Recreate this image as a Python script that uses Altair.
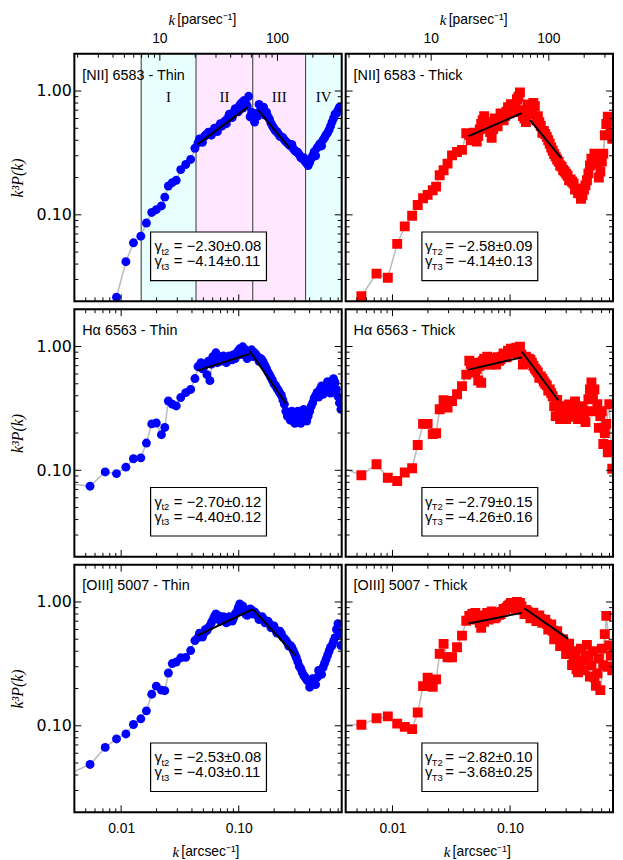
import altair as alt
import pandas as pd

# ---------------- data ----------------
K = [0.00365, 0.00544, 0.00732, 0.00913, 0.01097, 0.01272, 0.0147, 0.0164, 0.0182, 0.0199,
     0.0220, 0.0235, 0.0252, 0.0272, 0.0294, 0.0321, 0.0354, 0.0390, 0.0424,
     0.045, 0.0477, 0.0506, 0.0536, 0.0568, 0.0602, 0.0639, 0.0677, 0.0718, 0.0761,
     0.0806, 0.0855, 0.0906, 0.0961, 0.1018, 0.108, 0.1144, 0.1213, 0.1286, 0.1363,
     0.1445, 0.1532, 0.1624, 0.1721, 0.1824, 0.1934, 0.205, 0.2173, 0.2303, 0.2441,
     0.2588, 0.2743, 0.2908, 0.3082, 0.3267, 0.3463, 0.3671, 0.3891, 0.4125, 0.4372,
     0.4635, 0.4913, 0.5208, 0.552, 0.5851, 0.6202, 0.6575, 0.6969, 0.7387, 0.78]

# second set of points in the dense part of the spectra (between the K values above)
K_MID = [0.04633, 0.04911, 0.0521, 0.05519, 0.05848, 0.06198, 0.06579, 0.0697, 0.07393,
         0.07835, 0.08299, 0.08803, 0.09328, 0.09895, 0.1048, 0.1112, 0.1178, 0.1249,
         0.1324, 0.1403, 0.1488, 0.1577, 0.1672, 0.1772, 0.1878, 0.1991, 0.2111, 0.2237,
         0.2371, 0.2513, 0.2665, 0.2824, 0.2994, 0.3173, 0.3364, 0.3566, 0.378, 0.4006,
         0.4247, 0.4501, 0.4772, 0.5058, 0.5362, 0.5683, 0.6024, 0.6386, 0.677, 0.7175]

P_NII_THIN = [0.003, 0.006, 0.012, 0.0216, 0.0418, 0.0594, 0.0672, 0.0859, 0.1045, 0.110,
              0.118, 0.139, 0.171, 0.182, 0.19, 0.232, 0.255, 0.28, 0.345,
              0.381, 0.403, 0.426, 0.442, 0.459, 0.476, 0.494, 0.515, 0.52, 0.572,
              0.60, 0.639, 0.675, 0.714, 0.768, 0.727, 0.797, 0.907, 0.675, 0.562,
              0.627, 0.701, 0.741, 0.675, 0.593, 0.522, 0.476, 0.450, 0.426, 0.403,
              0.381, 0.361, 0.342, 0.323, 0.306, 0.284, 0.269, 0.250, 0.284, 0.323,
              0.348, 0.375, 0.403, 0.442, 0.485, 0.561, 0.651, 0.700, 0.713, 0.69]
M_NII_THIN = [0.41, 0.385, 0.44, 0.465, 0.44, 0.50, 0.47, 0.545, 0.55, 0.545, 0.65, 0.61,
              0.72, 0.68, 0.80, 0.84, 0.76, 0.62, 0.60, 0.66, 0.78, 0.69, 0.64, 0.62,
              0.55, 0.50, 0.47, 0.43, 0.42, 0.39, 0.37, 0.37, 0.33, 0.32, 0.29, 0.29,
              0.26, 0.265, 0.30, 0.30, 0.36, 0.36, 0.42, 0.46, 0.52, 0.60, 0.66, 0.74]

P_NII_THICK = [0.016, 0.0220, 0.0335, 0.031, 0.0582, 0.0806, 0.0984, 0.1202, 0.136, 0.145,
               0.158, 0.169, 0.209, 0.229, 0.259, 0.302, 0.322, 0.335, 0.456,
               0.442, 0.411, 0.45, 0.434, 0.541, 0.627, 0.562, 0.467, 0.494, 0.562,
               0.583, 0.627, 0.627, 0.741, 0.783, 0.675, 0.858, 0.976, 0.627, 0.562,
               0.651, 0.714, 0.754, 0.627, 0.522, 0.476, 0.426, 0.375, 0.329, 0.295,
               0.269, 0.245, 0.224, 0.207, 0.193, 0.179, 0.163, 0.149, 0.144, 0.173,
               0.216, 0.284, 0.312, 0.259, 0.224, 0.312, 0.541, 0.562, 0.411, 0.38]
M_NII_THICK = [0.40, 0.46, 0.39, 0.49, 0.58, 0.52, 0.50, 0.42, 0.60, 0.52, 0.66, 0.58,
               0.68, 0.66, 0.72, 0.78, 0.90, 0.70, 0.60, 0.78, 0.66, 0.80, 0.58, 0.56,
               0.46, 0.45, 0.40, 0.35, 0.31, 0.28, 0.25, 0.23, 0.215, 0.19, 0.185, 0.16,
               0.15, 0.135, 0.16, 0.19, 0.25, 0.26, 0.28, 0.20, 0.27, 0.44, 0.62, 0.46]

P_HA_THIN = [0.078, 0.0744, 0.097, 0.094, 0.106, 0.124, 0.126, 0.166, 0.237, 0.241,
             0.194, 0.222, 0.363, 0.342, 0.331, 0.387, 0.424, 0.450, 0.551,
             0.688, 0.741, 0.688, 0.593, 0.53, 0.827, 0.890, 0.827, 0.783, 0.80,
             0.768, 0.827, 0.858, 0.890, 0.958, 0.995, 0.941, 0.858, 0.941, 0.890,
             0.827, 0.80, 0.741, 0.663, 0.593, 0.532, 0.485, 0.442, 0.403, 0.342,
             0.274, 0.254, 0.274, 0.254, 0.284, 0.26, 0.29, 0.274, 0.329, 0.381,
             0.426, 0.45, 0.411, 0.476, 0.45, 0.494, 0.512, 0.396, 0.311, 0.27]
M_HA_THIN = [0.70, 0.66, 0.72, 0.76, 0.72, 0.76, 0.74, 0.76, 0.84, 0.74, 0.84, 0.78,
             0.80, 0.92, 0.86, 0.90, 0.80, 0.90, 0.83, 0.86, 0.76, 0.78, 0.70, 0.62,
             0.56, 0.50, 0.46, 0.42, 0.37, 0.30, 0.27, 0.30, 0.24, 0.30, 0.24, 0.31,
             0.25, 0.30, 0.35, 0.40, 0.39, 0.48, 0.44, 0.52, 0.42, 0.55, 0.45, 0.35]

P_HA_THICK = [0.106, 0.0912, 0.112, 0.087, 0.082, 0.096, 0.104, 0.160, 0.237, 0.237,
              0.196, 0.199, 0.311, 0.368, 0.322, 0.363, 0.411, 0.479, 0.593,
              0.768, 0.688, 0.616, 0.532, 0.51, 0.797, 0.827, 0.714, 0.741, 0.714,
              0.768, 0.827, 0.858, 0.924, 0.958, 0.924, 0.976, 0.995, 0.714, 0.827,
              0.797, 0.741, 0.663, 0.616, 0.572, 0.522, 0.485, 0.45, 0.396, 0.274,
              0.318, 0.284, 0.311, 0.3, 0.318, 0.323, 0.284, 0.3, 0.311, 0.245,
              0.375, 0.512, 0.45, 0.342, 0.274, 0.163, 0.237, 0.342, 0.103, 0.085]
M_HA_THICK = [0.72, 0.74, 0.66, 0.70, 0.76, 0.72, 0.80, 0.80, 0.78, 0.82, 0.79, 0.88,
              0.82, 0.90, 0.88, 0.97, 0.90, 0.86, 0.78, 0.74, 0.78, 0.70, 0.64, 0.56,
              0.55, 0.50, 0.44, 0.42, 0.33, 0.37, 0.26, 0.33, 0.26, 0.34, 0.27, 0.36,
              0.26, 0.33, 0.27, 0.30, 0.45, 0.40, 0.30, 0.22, 0.30, 0.20, 0.14, 0.16]

P_OIII_THIN = [0.041, 0.0487, 0.0669, 0.0783, 0.0859, 0.1024, 0.1138, 0.132, 0.180, 0.209,
               0.194, 0.192, 0.267, 0.318, 0.327, 0.354, 0.357, 0.405, 0.488,
               0.515, 0.535, 0.56, 0.586, 0.642, 0.718, 0.80, 0.773, 0.718, 0.718,
               0.692, 0.731, 0.745, 0.832, 0.964, 0.929, 0.80, 0.832, 0.863, 0.832,
               0.773, 0.745, 0.731, 0.692, 0.667, 0.631, 0.597, 0.575, 0.555, 0.506,
               0.470, 0.445, 0.405, 0.356, 0.302, 0.270, 0.246, 0.229, 0.217, 0.225,
               0.246, 0.265, 0.296, 0.343, 0.398, 0.445, 0.515, 0.667, 0.445, 0.35]
M_OIII_THIN = [0.56, 0.52, 0.60, 0.62, 0.68, 0.76, 0.74, 0.70, 0.76, 0.68, 0.76, 0.70,
               0.80, 0.90, 0.88, 0.86, 0.78, 0.88, 0.80, 0.80, 0.72, 0.76, 0.68, 0.70,
               0.62, 0.64, 0.56, 0.58, 0.52, 0.49, 0.44, 0.43, 0.38, 0.33, 0.29, 0.255,
               0.235, 0.205, 0.24, 0.215, 0.28, 0.26, 0.32, 0.37, 0.43, 0.48, 0.60, 0.55]

P_OIII_THICK = [0.102, 0.102, 0.115, 0.119, 0.104, 0.098, 0.094, 0.128, 0.209, 0.245,
                0.206, 0.237, 0.381, 0.459, 0.358, 0.358, 0.431, 0.535, 0.705,
                0.773, 0.80, 0.816, 0.745, 0.619, 0.692, 0.816, 0.773, 0.80, 0.759,
                0.787, 0.832, 0.863, 0.929, 0.982, 0.964, 1.0, 0.982, 0.863, 0.863,
                0.80, 0.787, 0.759, 0.745, 0.731, 0.692, 0.667, 0.642, 0.586, 0.555,
                0.515, 0.479, 0.445, 0.42, 0.384, 0.337, 0.286, 0.308, 0.337, 0.356,
                0.37, 0.308, 0.246, 0.265, 0.194, 0.308, 0.773, 0.445, 0.28, 0.246]
M_OIII_THICK = [0.74, 0.76, 0.72, 0.68, 0.78, 0.74, 0.72, 0.84, 0.74, 0.82, 0.80, 0.88,
                0.90, 0.95, 0.92, 0.88, 0.94, 0.92, 0.80, 0.84, 0.74, 0.82, 0.70, 0.78,
                0.68, 0.72, 0.60, 0.66, 0.50, 0.58, 0.44, 0.50, 0.38, 0.46, 0.31, 0.40,
                0.27, 0.42, 0.28, 0.45, 0.25, 0.40, 0.21, 0.35, 0.42, 0.55, 0.30, 0.37]

# fitted power-law segments: (k start, k end), (P start, P end) for ranges II and III
FIT_NII_THIN = [[0.0444, 0.120], [0.370, 0.745], [0.1459, 0.269], [0.705, 0.348]]
FIT_NII_THICK = [[0.0444, 0.1257], [0.432, 0.663], [0.1479, 0.2708], [0.583, 0.288]]
FIT_HA_THIN = [[0.0444, 0.1233], [0.639, 0.869], [0.1233, 0.252], [0.924, 0.346]]
FIT_HA_THICK = [[0.0444, 0.1257], [0.651, 0.817], [0.1257, 0.2568], [0.912, 0.368]]
FIT_OIII_THIN = [[0.0444, 0.1315], [0.535, 0.874], [0.1315, 0.3027], [0.874, 0.370]]
FIT_OIII_THICK = [[0.0444, 0.1257], [0.671, 0.817], [0.1323, 0.3122], [0.890, 0.503]]

# regions I-IV (top-left panel)
REGION_EDGES = [0.0148, 0.0433, 0.1315, 0.37, 0.75]
REGION_NAMES = ["I", "II", "III", "IV"]
REGION_COLORS = ["#e8ffff", "#ffe8ff", "#ffe8ff", "#e8ffff"]
REGION_LABEL_K = [0.0253, 0.0755, 0.2206, 0.527]
REGION_LINES = [0.0148, 0.0433, 0.1315, 0.37]

# ticks
Y_MAJOR = [0.1, 1.0]
Y_MINOR = [0.03, 0.04, 0.05, 0.06, 0.07, 0.08, 0.09, 0.2, 0.3, 0.4, 0.5, 0.6, 0.7, 0.8, 0.9]
X_MAJOR = [0.01, 0.1]
X_MINOR = [0.005, 0.006, 0.007, 0.008, 0.009, 0.02, 0.03, 0.04, 0.05, 0.06, 0.07, 0.08,
           0.09, 0.2, 0.3, 0.4, 0.5, 0.6, 0.7]
PC_MAJOR = [10, 100]
PC_MINOR = [2, 3, 4, 5, 6, 7, 8, 9, 20, 30, 40, 50, 60, 70, 80, 90, 200, 300]
PC_PER_ARCSEC_K = 468.8   # k[pc^-1] = 468.8 * k[arcsec^-1]  (D ~ 440 pc)

for arr in [P_NII_THIN, P_NII_THICK, P_HA_THIN, P_HA_THICK, P_OIII_THIN, P_OIII_THICK]:
    assert len(arr) == len(K), len(arr)
for arr in [M_NII_THIN, M_NII_THICK, M_HA_THIN, M_HA_THICK, M_OIII_THIN, M_OIII_THICK]:
    assert len(arr) == len(K_MID), len(arr)

# ---------------- chart ----------------
W, H = 270, 250
XS = alt.Scale(type="log", domain=[0.004, 0.75])
YS = alt.Scale(type="log", domain=[0.02, 2.0])
SANS = "Liberation Sans"
SERIF = "Liberation Serif"
ONE = pd.DataFrame({"o": [0]})


def xaxis(show):
    if not show:
        return None
    return alt.Axis(values=X_MAJOR, format=".2f", ticks=False, domain=False, grid=False,
                    labelFont=SANS, labelFontSize=14, labelColor="black", labelPadding=9,
                    title=None)


def yaxis(show):
    if not show:
        return None
    return alt.Axis(values=Y_MAJOR, format=".2f", ticks=False, domain=False, grid=False,
                    labelFont="DejaVu Sans", labelFontSize=16, labelColor="black",
                    labelPadding=3, title="k³P(k)", titleFont=SERIF, titleFontSize=16,
                    titleFontStyle="italic", titleFontWeight="normal", titleColor="black",
                    titlePadding=11)


def txt(s, x, y, size=14, font=SANS, style="normal", align="left", baseline="alphabetic"):
    return alt.Chart(ONE).mark_text(text=s, font=font, fontSize=size, fontStyle=style,
                                    align=align, baseline=baseline, color="black").encode(
        x=alt.value(x), y=alt.value(y))


def panel(label, P, M, fit, thick, g2, g3, row, col):
    showx = row == 2
    showy = col == 0
    X = lambda f: alt.X(f, type="quantitative", scale=XS, axis=xaxis(showx))
    Y = lambda f: alt.Y(f, type="quantitative", scale=YS, axis=yaxis(showy))
    layers = []

    if row == 0 and col == 0:
        reg = pd.DataFrame({"k1": REGION_EDGES[:-1], "k2": REGION_EDGES[1:],
                            "c": REGION_COLORS})
        layers.append(alt.Chart(reg).mark_rect(clip=True).encode(
            x=X("k1"), x2="k2", y=alt.value(0), y2=alt.value(H),
            color=alt.Color("c:N", scale=None)))
        layers.append(alt.Chart(pd.DataFrame({"k": REGION_LINES})).mark_rule(
            color="#333333", strokeWidth=1).encode(x=X("k"), y=alt.value(0), y2=alt.value(H)))

    df = pd.DataFrame({"k": K, "P": P})
    mdf = pd.DataFrame({"k": K_MID, "P": M})
    layers.append(alt.Chart(mdf).mark_line(color="#c4c4c4", strokeWidth=1, clip=True).encode(
        x=X("k"), y=Y("P")))
    layers.append(alt.Chart(df).mark_line(color="#bdbdbd", strokeWidth=1.6, clip=True).encode(
        x=X("k"), y=Y("P")))
    pts = pd.concat([df[df["k"] <= 0.75], mdf], ignore_index=True)
    if thick:
        layers.append(alt.Chart(pts).mark_square(size=100, color="#ff0000", opacity=1,
                                                 clip=True).encode(x=X("k"), y=Y("P")))
    else:
        layers.append(alt.Chart(pts).mark_circle(size=81, color="#0000ff", opacity=1,
                                                 clip=True).encode(x=X("k"), y=Y("P")))

    fdf = pd.DataFrame({"k": fit[0] + fit[2], "P": fit[1] + fit[3],
                        "seg": ["II", "II", "III", "III"]})
    layers.append(alt.Chart(fdf).mark_line(color="black", strokeWidth=2).encode(
        x=X("k"), y=Y("P"), detail="seg:N"))

    if row == 0 and col == 0:
        rl = pd.DataFrame({"k": REGION_LABEL_K, "t": REGION_NAMES})
        layers.append(alt.Chart(rl).mark_text(font=SERIF, fontSize=15, color="black",
                                              baseline="middle").encode(
            x=X("k"), y=alt.value(44), text="t:N"))

    # gamma box
    layers.append(alt.Chart(ONE).mark_rect(fill="white", stroke="black", strokeWidth=1.2).encode(
        x=alt.value(77), x2=alt.value(194), y=alt.value(180), y2=alt.value(229)))
    sub = "T" if thick else "t"
    gx = 80 if thick else 81
    for i, (g, yb) in enumerate([(g2, 199.5), (g3, 214.5)]):
        layers.append(txt("γ", gx, yb, 15))
        layers.append(txt(sub + str(i + 2), gx + 7, yb + 3.5, 9.5))
        layers.append(txt("= " + g, 100.5, yb, 15))

    layers.append(txt(label, 8, 26, 14.5))

    # inward ticks
    for vals, L in [(Y_MAJOR, 7), (Y_MINOR, 4)]:
        tdf = pd.DataFrame({"v": vals})
        layers.append(alt.Chart(tdf).mark_rule(color="black", strokeWidth=1).encode(
            y=Y("v"), x=alt.value(0), x2=alt.value(L)))
        layers.append(alt.Chart(tdf).mark_rule(color="black", strokeWidth=1).encode(
            y=Y("v"), x=alt.value(W - L), x2=alt.value(W)))
    for vals, L in [(X_MAJOR, 7), (X_MINOR, 4)]:
        tdf = pd.DataFrame({"v": vals})
        layers.append(alt.Chart(tdf).mark_rule(color="black", strokeWidth=1).encode(
            x=X("v"), y=alt.value(H - L), y2=alt.value(H)))
        if row != 0:
            layers.append(alt.Chart(tdf).mark_rule(color="black", strokeWidth=1).encode(
                x=X("v"), y=alt.value(0), y2=alt.value(L)))
    if row == 0:
        for vals, L in [(PC_MAJOR, 7), (PC_MINOR, 4)]:
            tdf = pd.DataFrame({"pc": vals})
            tdf["v"] = tdf["pc"] / PC_PER_ARCSEC_K
            layers.append(alt.Chart(tdf).mark_rule(color="black", strokeWidth=1).encode(
                x=X("v"), y=alt.value(0), y2=alt.value(L)))
        ldf = pd.DataFrame({"pc": PC_MAJOR})
        ldf["v"] = ldf["pc"] / PC_PER_ARCSEC_K
        ldf["t"] = ldf["pc"].astype(str)
        layers.append(alt.Chart(ldf).mark_text(font=SANS, fontSize=14, color="black",
                                               baseline="middle").encode(
            x=X("v"), y=alt.value(-15), text="t:N"))
        layers.append(txt("k", 95, -34, 15, SERIF, "italic", baseline="middle"))
        layers.append(txt("[parsec⁻¹]", 104, -34, 14, baseline="middle"))
    if row == 2:
        layers.append(txt("k", 99, 290, 15, SERIF, "italic", baseline="middle"))
        layers.append(txt("[arcsec⁻¹]", 108, 290, 14, baseline="middle"))

    # panel frame
    layers.append(alt.Chart(ONE).mark_rect(fill=None, fillOpacity=0, stroke="black",
                                           strokeWidth=2).encode(
        x=alt.value(0), x2=alt.value(W), y=alt.value(0), y2=alt.value(H)))

    return alt.layer(*layers).properties(width=W, height=H)


rows = [
    [("[NII] 6583 - Thin", P_NII_THIN, M_NII_THIN, FIT_NII_THIN, False, "−2.30±0.08", "−4.14±0.11"),
     ("[NII] 6583 - Thick", P_NII_THICK, M_NII_THICK, FIT_NII_THICK, True, "−2.58±0.09", "−4.14±0.13")],
    [("Hα 6563 - Thin", P_HA_THIN, M_HA_THIN, FIT_HA_THIN, False, "−2.70±0.12", "−4.40±0.12"),
     ("Hα 6563 - Thick", P_HA_THICK, M_HA_THICK, FIT_HA_THICK, True, "−2.79±0.15", "−4.26±0.16")],
    [("[OIII] 5007 - Thin", P_OIII_THIN, M_OIII_THIN, FIT_OIII_THIN, False, "−2.53±0.08", "−4.03±0.11"),
     ("[OIII] 5007 - Thick", P_OIII_THICK, M_OIII_THICK, FIT_OIII_THICK, True, "−2.82±0.10", "−3.68±0.25")],
]

hrows = []
for r, row in enumerate(rows):
    cells = [panel(*spec, row=r, col=c) for c, spec in enumerate(row)]
    hrows.append(alt.hconcat(*cells, spacing=0))

chart = alt.vconcat(*hrows, spacing=4).configure_view(
    stroke=None).configure(padding=0, background="white")

chart.save("out.html", embed_options={"renderer": "svg", "actions": False})
